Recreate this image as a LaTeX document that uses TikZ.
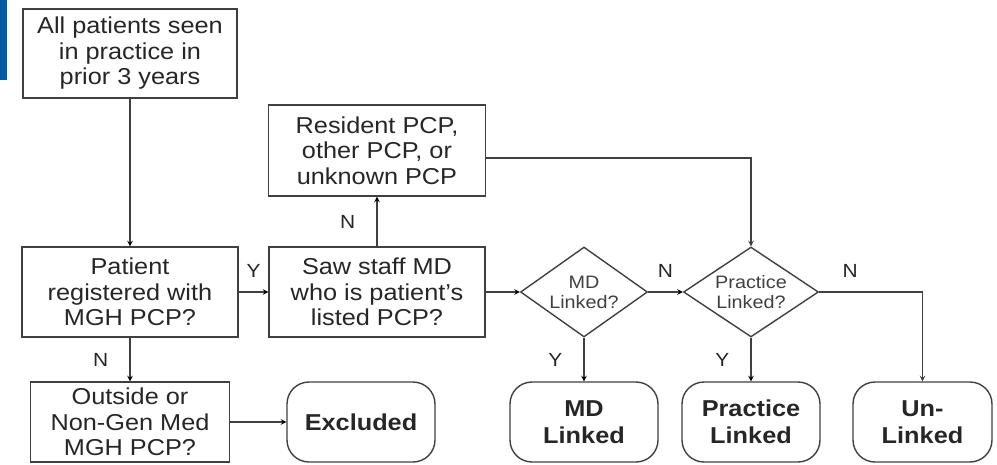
\documentclass[tikz,border=0pt]{standalone}
\usepackage{fontspec}
\setmainfont{Liberation Sans}[FakeStretch=1.1]
\usetikzlibrary{positioning,shapes.geometric}

\definecolor{barblue}{RGB}{0,92,158}

\tikzset{
  box/.style={draw=black!75, line width=1.4pt, text=black!85, align=center,
    minimum width=216pt, minimum height=90pt, inner sep=0pt,
    font=\fontsize{23}{25.5}\selectfont},
  endbox/.style={box, rounded corners=22pt, minimum height=80pt,
    font=\fontsize{23}{26.5}\selectfont\bfseries},
  query/.style={diamond, draw=black!75, line width=1.4pt, text=black!75,
    align=center, inner sep=0pt, aspect=1.5, minimum height=90pt,
    font=\fontsize{18}{20}\selectfont},
  yn/.style={text=black!85, inner sep=2pt, font=\fontsize{19}{20}\selectfont},
  conn/.style={draw=black!75, line width=1.4pt, -stealth},
}

\begin{document}
\begin{tikzpicture}[x=1pt, y=-1pt]
  \useasboundingbox (0,0) rectangle (997,464);
  \fill[barblue] (0,0) rectangle (7,80);

  \node[box, minimum width=214pt, minimum height=89pt] (all) at (130,53.5)
    {All patients seen\\in practice in\\prior 3 years};
  \node[box] (reg) at (130,292) {Patient\\registered with\\MGH PCP?};
  \node[box] (saw) at (377,292) {Saw staff MD\\who is patient’s\\listed PCP?};
  \node[box, minimum width=217pt, minimum height=91pt] (res) at (377,150.5)
    {Resident PCP,\\other PCP, or\\unknown PCP};
  \node[box, minimum width=199pt, minimum height=80pt] (out) at (130,422)
    {Outside or\\Non-Gen Med\\MGH PCP?};
  \node[endbox, minimum width=148pt] (excl) at (361,422) {Excluded};

  \node[query, minimum width=127pt] (mdq) at (584,292) {MD\\Linked?};
  \node[query, minimum width=135pt] (prq) at (751,292) {Practice\\Linked?};

  \node[endbox, minimum width=148pt] (mdl) at (584,422) {MD\\Linked};
  \node[endbox, minimum width=138pt] (prl) at (751,422) {Practice\\Linked};
  \node[endbox, minimum width=139pt] (unl) at (922.5,422) {Un-\\Linked};

  \path[conn]
    (all) edge (reg)
    (reg)
      edge node[yn, above=12pt] {Y} (saw)
      edge node[yn, left=19pt] {N} (out)
    (out) edge (excl)
    (saw)
      edge node[yn, left=19pt] {N} (res)
      edge (mdq)
    (mdq)
      edge node[yn, above=12pt] {N} (prq)
      edge node[yn, left=19pt] {Y} (mdl)
    (prq) edge node[yn, left=19pt] {Y} (prl);

  \draw[conn] ([yshift=-7.5pt]res.east) -| (prq);
  \draw[conn] (prq) -| node[yn, pos=0.15, above=12pt] {N} (unl);

\end{tikzpicture}
\end{document}
